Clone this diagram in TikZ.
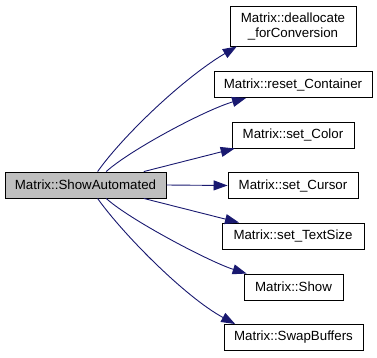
\documentclass[tikz,border=0pt]{standalone}
\usepackage{fontspec}
\setmainfont{Liberation Sans}
\definecolor{edgeblue}{RGB}{25,25,112}
\definecolor{rootgray}{RGB}{191,191,191}
\usepackage{tikz}
\usetikzlibrary{arrows.meta}

\begin{document}
\begin{tikzpicture}[x=1pt,y=-1pt,
    fn/.style={draw=black,line width=0.9pt,fill=white,inner sep=0pt,minimum height=26pt,
      align=center,font=\fontsize{13.3}{15}\selectfont},
    call/.style={edgeblue,line width=0.9pt,-{Triangle[length=14pt,width=10pt]}}]
        \useasboundingbox (0,0) rectangle (377,357);
        \node[fn,fill=rootgray,minimum width=161pt] (showauto) at (85.5,185) {Matrix::ShowAutomated};
        \node[fn,minimum width=126pt,minimum height=40pt] (dealloc) at (293,26) {Matrix::deallocate\\\_forConversion};
        \node[fn,minimum width=158pt] (reset) at (293,84.5) {Matrix::reset\_Container};
        \node[fn,minimum width=122pt] (color) at (293,135) {Matrix::set\_Color};
        \node[fn,minimum width=130pt] (cursor) at (293,185.5) {Matrix::set\_Cursor};
        \node[fn,minimum width=142pt] (textsize) at (293,236) {Matrix::set\_TextSize};
        \node[fn,minimum width=99pt] (show) at (293.5,287) {Matrix::Show};
        \node[fn,minimum width=139pt] (swap) at (293.5,337.5) {Matrix::SwapBuffers};
        % calls
        \draw[call] (showauto.48.5) .. controls (122,137) and (182,79) .. (dealloc.200);
        \draw[call] (showauto.33.7) .. controls (130,150) and (205,110) .. (reset.196);
        \draw[call] (showauto.13.4) -- (color.193);
        \draw[call] (showauto.east) -- (cursor.west);
        \draw[call] (showauto.-13.4) -- (textsize.166);
        \draw[call] (showauto.-33.7) .. controls (130,220) and (210,262) .. (show.164);
        \draw[call] (showauto.-48.5) .. controls (122,233) and (185,297) .. (swap.167);
      \end{tikzpicture}
\end{document}
